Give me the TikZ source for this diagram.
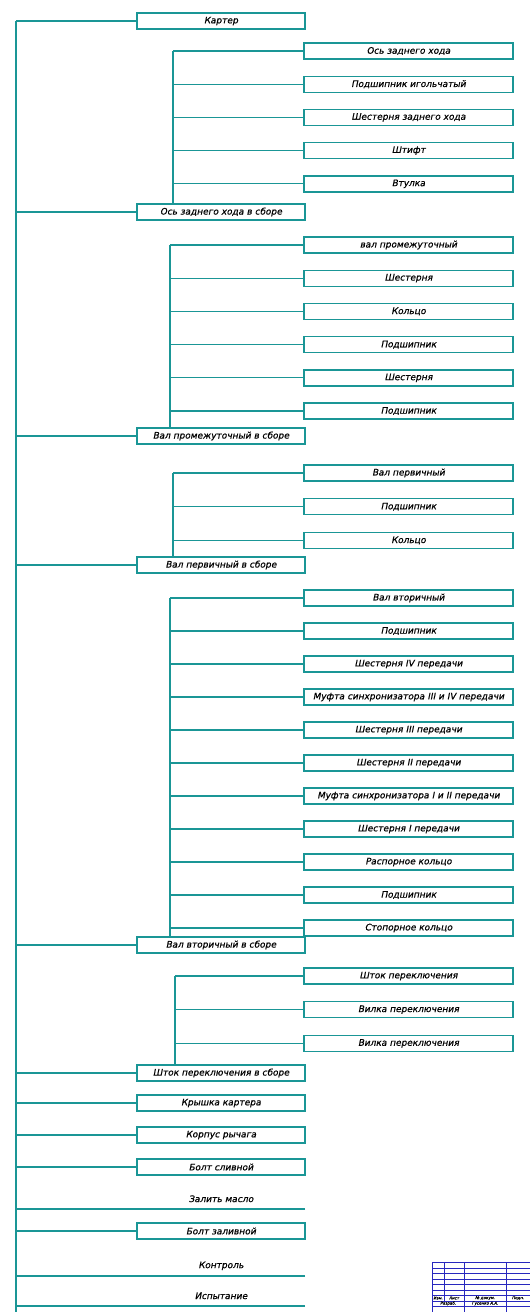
\documentclass[tikz,border=0pt]{standalone}
\usepackage{fontspec}
\setmainfont{DejaVu Sans}
\newfontfamily\gostfont{DejaVu Sans}[FakeSlant=0.2, FakeBold=0.6]
\usepackage{tikz}
\usetikzlibrary{positioning}

\definecolor{schemeteal}{RGB}{26,150,150}
\definecolor{frameblue}{RGB}{40,40,190}

\tikzset{
    part/.style={draw=schemeteal, line width=1.4pt, minimum width=209pt, minimum height=16pt, inner sep=0pt, font=\gostfont\fontsize{9}{9}\selectfont},
    unit/.style={part, minimum width=168pt},
    oper/.style={minimum width=168pt, minimum height=20pt, inner sep=0pt, anchor=south, font=\gostfont\fontsize{9}{9}\selectfont},
    link/.style={draw=schemeteal, line width=1.3pt},
    branch/.style={draw=schemeteal, line width=2pt},
    spine/.style={draw=schemeteal, line width=2.8pt},
    stamp/.style={font=\gostfont\fontsize{4}{4}\selectfont, inner sep=0pt}
}

\begin{document}
\begin{tikzpicture}[x=1pt, y=-1pt]
        \useasboundingbox (0,0) rectangle (530,1312);

        \coordinate (top) at (16,21);
        \coordinate (bot) at (16,1312);
        \coordinate (b1) at (173,0);
        \coordinate (b2) at (170,0);
        \coordinate (b3) at (173,0);
        \coordinate (b4) at (170,0);
        \coordinate (b5) at (175,0);

        % top level
        \node[unit] (kart) at (221,21) {Картер};

        \node[part] (p11) at (408.5,51) {Ось заднего хода};
        \node[part] (p12) [below=15.8pt of p11] {Подшипник игольчатый};
        \node[part] (p13) [below=15.8pt of p12] {Шестерня заднего хода};
        \node[part] (p14) [below=15.8pt of p13] {Штифт};
        \node[part] (p15) [below=15.8pt of p14] {Втулка};
        \node[unit] (a1) at (221,212) {Ось заднего хода в сборе};

        \node[part] (p21) at (408.5,245) {вал промежуточный};
        \node[part] (p22) [below=15.8pt of p21] {Шестерня};
        \node[part] (p23) [below=15.8pt of p22] {Кольцо};
        \node[part] (p24) [below=15.8pt of p23] {Подшипник};
        \node[part] (p25) [below=15.8pt of p24] {Шестерня};
        \node[part] (p26) [below=15.8pt of p25] {Подшипник};
        \node[unit] (a2) at (221,436) {Вал промежуточный в сборе};

        \node[part] (p31) at (408.5,473) {Вал первичный};
        \node[part] (p32) [below=16.3pt of p31] {Подшипник};
        \node[part] (p33) [below=16.3pt of p32] {Кольцо};
        \node[unit] (a3) at (221,565) {Вал первичный в сборе};

        \node[part] (p41) at (408.5,598) {Вал вторичный};
        \node[part] (p42) [below=15.6pt of p41] {Подшипник};
        \node[part] (p43) [below=15.6pt of p42] {Шестерня IV передачи};
        \node[part] (p44) [below=15.6pt of p43] {Муфта синхронизатора III и IV передачи};
        \node[part] (p45) [below=15.6pt of p44] {Шестерня III передачи};
        \node[part] (p46) [below=15.6pt of p45] {Шестерня II передачи};
        \node[part] (p47) [below=15.6pt of p46] {Муфта синхронизатора I и II передачи};
        \node[part] (p48) [below=15.6pt of p47] {Шестерня I передачи};
        \node[part] (p49) [below=15.6pt of p48] {Распорное кольцо};
        \node[part] (p410) [below=15.6pt of p49] {Подшипник};
        \node[part] (p411) [below=15.6pt of p410] {Стопорное кольцо};
        \node[unit] (a4) at (221,945) {Вал вторичный в сборе};

        \node[part] (p51) at (408.5,976) {Шток переключения};
        \node[part] (p52) [below=16.3pt of p51] {Вилка переключения};
        \node[part] (p53) [below=16.3pt of p52] {Вилка переключения};
        \node[unit] (a5) at (221,1073) {Шток переключения в сборе};

        \node[unit] (kr) at (221,1103) {Крышка картера};
        \node[unit] (korp) at (221,1135) {Корпус рычага};
        \node[unit] (sliv) at (221,1167) {Болт сливной};
        \node[oper] (oil) at (221,1209) {Залить масло};
        \node[unit] (zal) at (221,1231) {Болт заливной};
        \node[oper] (ctrl) at (221,1276) {Контроль};
        \node[oper] (test) at (221,1306) {Испытание};

        % spine and branches
        \draw[spine] (top) -- (bot);
        \draw[branch] (p11.west -| b1) -- (a1.north -| b1);
        \draw[branch] (p21.west -| b2) -- (a2.north -| b2);
        \draw[branch] (p31.west -| b3) -- (a3.north -| b3);
        \draw[branch] (p41.west -| b4) -- (a4.north -| b4);
        \draw[branch] (p51.west -| b5) -- (a5.north -| b5);

        \path[link]
        (kart.west) edge (kart.west -| top)
        (a1.west) edge (a1.west -| top)
        (a2.west) edge (a2.west -| top)
        (a3.west) edge (a3.west -| top)
        (a4.west) edge (a4.west -| top)
        (a5.west) edge (a5.west -| top)
        (kr.west) edge (kr.west -| top)
        (korp.west) edge (korp.west -| top)
        (sliv.west) edge (sliv.west -| top)
        (zal.west) edge (zal.west -| top)
        (oil.south east) edge (oil.south east -| top)
        (ctrl.south east) edge (ctrl.south east -| top)
        (test.south east) edge (test.south east -| top);

        \path[link]
        (p11.west) edge (p11.west -| b1)
        (p12.west) edge (p12.west -| b1)
        (p13.west) edge (p13.west -| b1)
        (p14.west) edge (p14.west -| b1)
        (p15.west) edge (p15.west -| b1)
        (p21.west) edge (p21.west -| b2)
        (p22.west) edge (p22.west -| b2)
        (p23.west) edge (p23.west -| b2)
        (p24.west) edge (p24.west -| b2)
        (p25.west) edge (p25.west -| b2)
        (p26.west) edge (p26.west -| b2)
        (p31.west) edge (p31.west -| b3)
        (p32.west) edge (p32.west -| b3)
        (p33.west) edge (p33.west -| b3)
        (p41.west) edge (p41.west -| b4)
        (p42.west) edge (p42.west -| b4)
        (p43.west) edge (p43.west -| b4)
        (p44.west) edge (p44.west -| b4)
        (p45.west) edge (p45.west -| b4)
        (p46.west) edge (p46.west -| b4)
        (p47.west) edge (p47.west -| b4)
        (p48.west) edge (p48.west -| b4)
        (p49.west) edge (p49.west -| b4)
        (p410.west) edge (p410.west -| b4)
        (p411.west) edge (p411.west -| b4)
        (p51.west) edge (p51.west -| b5)
        (p52.west) edge (p52.west -| b5)
        (p53.west) edge (p53.west -| b5);

        % title block
        \draw[frameblue, line width=0.6pt] (432,1262) rectangle (530,1312);
        \draw[frameblue, line width=0.6pt] (444,1262) -- (444,1301);
        \draw[frameblue, line width=0.6pt] (464,1262) -- (464,1312);
        \draw[frameblue, line width=0.6pt] (506,1262) -- (506,1312);
        \draw[frameblue, line width=0.4pt] (432,1268) -- (530,1268);
        \draw[frameblue, line width=0.8pt] (432,1273) -- (530,1273);
        \draw[frameblue, line width=0.4pt] (432,1279) -- (530,1279);
        \draw[frameblue, line width=0.8pt] (432,1284) -- (530,1284);
        \draw[frameblue, line width=0.4pt] (432,1290) -- (530,1290);
        \draw[frameblue, line width=0.8pt] (432,1295) -- (530,1295);
        \draw[frameblue, line width=0.8pt] (432,1301) -- (530,1301);
        \draw[frameblue, line width=0.4pt] (432,1306) -- (530,1306);
        \node[stamp] (izm) at (438,1298) {Изм.};
        \node[stamp] (list) at (454,1298) {Лист};
        \node[stamp] (doc) at (485,1298) {№ докум.};
        \node[stamp] (podp) at (518,1298) {Подп.};
        \node[stamp] (razr) at (448,1303.5) {Разраб.};
        \node[stamp] (fio) at (485,1303.5) {Гусенко А.А.};
\end{tikzpicture}
\end{document}
